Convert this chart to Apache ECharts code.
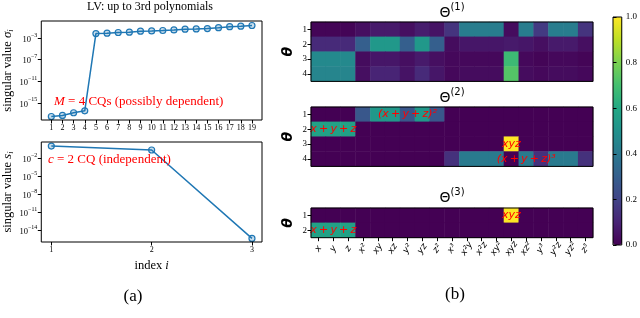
<!DOCTYPE html>
<html><head><meta charset="utf-8">
<script src="https://cdn.jsdelivr.net/npm/echarts@6/dist/echarts.min.js"></script>
<style>html,body{margin:0;padding:0;background:#fff}#c{width:640px;height:318px}</style>
</head><body><div id="c"></div>
<script>
// ---- data (panel a) ----
const idxTop = [1,2,3,4,5,6,7,8,9,10,11,12,13,14,15,16,17,18,19];
const sigmaTop = [2.8e-18,4.5e-18,1.4e-17,3.2e-17,7.4e-3,8.5e-3,1.15e-2,1.3e-2,2.0e-2,2.3e-2,2.7e-2,3.5e-2,4.7e-2,5.4e-2,6.3e-2,8.9e-2,1.38e-1,1.7e-1,2.3e-1];
const idxBot = [1,2,3];
const sBot = [1.1,0.24,4e-16];
const thresholdTop = [1e-8];
const thresholdBot = [1e-8];
const yTicksTop = [1e-15,1e-11,1e-7,1e-3];
const yTicksBot = [1e-14,1e-11,1e-8,1e-5,1e-2];
// ---- data (panel b) ----
const monomials = ['x','y','z','x²','xy','xz','y²','yz','z²','x³','x²y','x²z','xy²','xyz','xz²','y³','y²z','yz²','z³'];
const rows4 = ['1','2','3','4'];
const rows2 = ['1','2'];
const theta1 = [
 [0.01,0.01,0.01,0.04,0.07,0.07,0.04,0.08,0.05,0.15,0.42,0.42,0.42,0.03,0.42,0.17,0.42,0.42,0.15],
 [0.12,0.12,0.12,0.30,0.53,0.53,0.30,0.53,0.30,0.03,0.06,0.06,0.06,0.07,0.06,0.04,0.07,0.07,0.04],
 [0.47,0.47,0.47,0.03,0.06,0.06,0.04,0.07,0.04,0.02,0.02,0.02,0.02,0.68,0.02,0.01,0.02,0.02,0.01],
 [0.45,0.45,0.45,0.04,0.10,0.10,0.05,0.12,0.06,0.02,0.03,0.03,0.03,0.73,0.03,0.02,0.03,0.03,0.02]
];
const theta2 = [
 [0,0,0,0.27,0.53,0.53,0.27,0.53,0.27,0,0,0,0,0,0,0,0,0,0],
 [0.57,0.57,0.57,0,0,0,0,0,0,0,0,0,0,0,0,0,0,0,0],
 [0,0,0,0,0,0,0,0,0,0,0,0,0,1.0,0,0,0,0,0],
 [0,0,0,0,0,0,0,0,0,0.14,0.41,0.41,0.41,0,0.41,0.14,0.41,0.41,0.14]
];
const theta3 = [
 [0,0,0,0,0,0,0,0,0,0,0,0,0,1.0,0,0,0,0,0],
 [0.57,0.57,0.57,0,0,0,0,0,0,0,0,0,0,0,0,0,0,0,0]
];
const notes2 = [[6,0,'(x\u2009+\u2009y\u2009+\u2009z)²'],[1,1,'x\u2009+\u2009y\u2009+\u2009z'],[13,2,'xyz'],[14,3,'(x\u2009+\u2009y\u2009+\u2009z)³']];
const notes3 = [[13,0,'xyz'],[1,1,'x\u2009+\u2009y\u2009+\u2009z']];
const cbarTicks = [0,0.2,0.4,0.6,0.8,1.0];

const viridis = ['#440154','#482475','#414487','#355f8d','#2a788e','#21918c','#22a884','#44bf70','#7ad151','#bddf26','#fde725'];
const SERIF = 'Liberation Serif';
const SANS = 'DejaVu Sans';
const BLUE = '#1f77b4';

function hmData(mat, notes){
  const out = [];
  mat.forEach((row,r)=>row.forEach((v,c)=>{
    const n = notes.find(a=>a[0]===c && a[1]===r);
    if(n){
      out.push({value:[c,r,v], label:{show:true, formatter:n[2], color:'#ff0000', fontSize:11, fontStyle:'italic', fontWeight:'normal', fontFamily:SANS}});
    } else out.push([c,r,v]);
  }));
  return out;
}
const expFmt = v => '{b|10}{e|' + String(Math.round(Math.log10(v))).replace('-','\u2212') + '}';
const expRich = {b:{fontFamily:SERIF,fontSize:8.5,color:'#000',verticalAlign:'bottom',lineHeight:12}, e:{fontFamily:SERIF,fontSize:6,color:'#000',verticalAlign:'top',lineHeight:12}};

const chart = echarts.init(document.getElementById('c'), null, {renderer:'canvas'});

function lineY(gi, min, max, ticks, nameRich){
  return {type:'log', gridIndex:gi, min:min, max:max, logBase:10,
    splitLine:{show:false}, axisLine:{show:false},
    axisTick:{customValues:ticks, length:3.5, lineStyle:{color:'#000'}},
    axisLabel:{customValues:ticks, formatter:expFmt, rich:expRich, margin:4},
    minorTick:{show:false},
    name:nameRich, nameLocation:'middle', nameGap:22, nameRotate:90,
    nameTextStyle:{fontFamily:SERIF, fontSize:12.5, color:'#000', rich:{
      n:{fontFamily:SERIF,fontSize:12.5,color:'#000'},
      m:{fontFamily:SERIF,fontSize:13,fontStyle:'italic',color:'#000'},
      s:{fontFamily:SERIF,fontSize:8.5,fontStyle:'italic',color:'#000',verticalAlign:'bottom',lineHeight:16}}}
  };
}
function hmX(gi, showLabels){
  return {type:'category', gridIndex:gi, data:monomials, z:5,
    axisLine:{show:false}, splitLine:{show:false}, splitArea:{show:false},
    axisTick:{show:showLabels, alignWithLabel:true, length:3.5, lineStyle:{color:'#000'}},
    axisLabel:{show:showLabels, rotate:55, align:'center', verticalAlign:'middle', margin:11, fontFamily:SANS, fontStyle:'italic', fontSize:9, color:'#000'}};
}
function hmY(gi, rows){
  return {type:'category', gridIndex:gi, data:rows, inverse:true, z:5,
    axisLine:{show:false}, splitLine:{show:false}, splitArea:{show:false},
    axisTick:{show:true, alignWithLabel:true, length:3.5, lineStyle:{color:'#000'}},
    axisLabel:{fontFamily:SERIF, fontSize:9, color:'#000', margin:4},
    name:'θ', nameLocation:'middle', nameGap:16, nameRotate:90,
    nameTextStyle:{fontFamily:SANS, fontStyle:'italic', fontWeight:'bold', fontSize:14, color:'#000'}};
}
const hmGrid = (top,h)=>({left:311, top:top, width:282, height:h, show:true, z:10, borderColor:'#000', borderWidth:1, backgroundColor:'transparent'});
const thetaTitle = (n, top)=>({text:'{a|Θ}{b|('+n+')}', left:452, top:top, textAlign:'center', padding:0,
  textStyle:{fontWeight:'normal', rich:{a:{fontFamily:SANS,fontSize:14,fontWeight:'normal',color:'#000',verticalAlign:'bottom',lineHeight:18}, b:{fontFamily:SANS,fontSize:10,fontWeight:'normal',color:'#000',verticalAlign:'top',lineHeight:18}}}});

const option = {
  animation:false,
  backgroundColor:'#fff',
  title:[
    {text:'LV: up to 3rd polynomials', left:150, top:1, textAlign:'center', padding:0, textStyle:{fontFamily:SERIF, fontSize:12, fontWeight:'normal', color:'#000'}},
    thetaTitle(1,2), thetaTitle(2,87), thetaTitle(3,187),
    {text:'{i|M} = 4 CQs (possibly dependent)', left:54, top:95, padding:0, textStyle:{fontFamily:SERIF, fontSize:13, fontWeight:'normal', color:'#ff0000', rich:{i:{fontFamily:SERIF,fontSize:13,fontStyle:'italic',color:'#ff0000'}}}},
    {text:'{i|c} = 2 CQ (independent)', left:48, top:153, padding:0, textStyle:{fontFamily:SERIF, fontSize:13, fontWeight:'normal', color:'#ff0000', rich:{i:{fontFamily:SERIF,fontSize:13,fontStyle:'italic',color:'#ff0000'}}}},
    {text:'(a)', left:133, top:288, textAlign:'center', padding:0, textStyle:{fontFamily:SERIF, fontSize:17, fontWeight:'normal', color:'#000'}},
    {text:'(b)', left:455, top:286, textAlign:'center', padding:0, textStyle:{fontFamily:SERIF, fontSize:17, fontWeight:'normal', color:'#000'}}
  ],
  grid:[
    {left:39, top:21, width:223, height:99, show:true, z:10, borderColor:'#000', borderWidth:1, backgroundColor:'transparent'},
    {left:39, top:142, width:223, height:100, show:true, z:10, borderColor:'#000', borderWidth:1, backgroundColor:'transparent'},
    hmGrid(22,59.4), hmGrid(107,59.4), hmGrid(208,29.7),
    {left:613, top:17, width:9, height:228, show:true, z:10, borderColor:'#000', borderWidth:1, backgroundColor:'transparent'}
  ],
  xAxis:[
    {type:'value', gridIndex:0, min:0.1, max:19.9, splitLine:{show:false}, axisLine:{show:false},
     axisTick:{customValues:idxTop, length:3.5, lineStyle:{color:'#000'}},
     axisLabel:{customValues:idxTop, fontFamily:SERIF, fontSize:8, color:'#000', margin:4}},
    {type:'value', gridIndex:1, min:0.9, max:3.1, splitLine:{show:false}, axisLine:{show:false},
     axisTick:{customValues:idxBot, length:3.5, lineStyle:{color:'#000'}},
     axisLabel:{customValues:idxBot, fontFamily:SERIF, fontSize:8, color:'#000', margin:4},
     name:'{n|index }{i|i}', nameLocation:'middle', nameGap:17,
     nameTextStyle:{rich:{n:{fontFamily:SERIF,fontSize:12.5,color:'#000'}, i:{fontFamily:SERIF,fontSize:12.5,fontStyle:'italic',color:'#000'}}}},
    hmX(2,false), hmX(3,false), hmX(4,true),
    {type:'value', gridIndex:5, show:false, min:0, max:1}
  ],
  yAxis:[
    lineY(0, 6.3e-19, 1.58, yTicksTop, '{n|singular value }{m|σ}{s|i}'),
    lineY(1, 1e-16, 5.2, yTicksBot, '{n|singular value }{m|s}{s|i}'),
    hmY(2,rows4), hmY(3,rows4), hmY(4,rows2),
    {type:'value', gridIndex:5, min:0, max:1, interval:0.2, position:'right', z:11,
     splitLine:{show:false}, axisLine:{show:false},
     axisTick:{length:3.5, lineStyle:{color:'#000'}},
     axisLabel:{formatter:v=>v.toFixed(1), fontFamily:SERIF, fontSize:9, color:'#000', margin:4}}
  ],
  visualMap:{type:'continuous', min:0, max:1, seriesIndex:[2,3,4], left:613, top:17, itemWidth:9, itemHeight:228,
    padding:0, calculable:false, hoverLink:false, text:null, showLabel:false, inRange:{color:viridis}},
  series:[
    {type:'line', xAxisIndex:0, yAxisIndex:0, data:idxTop.map((x,i)=>[x,sigmaTop[i]]),
     symbol:'circle', symbolSize:6, lineStyle:{color:BLUE, width:1.5},
     itemStyle:{color:'rgba(31,119,180,0.25)', borderColor:BLUE, borderWidth:1.2},
     markLine:{silent:true, symbol:'none', label:{show:false}, lineStyle:{color:'#ff0000', type:[6,3], width:1.5},
       data:thresholdTop.map(v=>({yAxis:v}))}},
    {type:'line', xAxisIndex:1, yAxisIndex:1, data:idxBot.map((x,i)=>[x,sBot[i]]),
     symbol:'circle', symbolSize:6, lineStyle:{color:BLUE, width:1.5},
     itemStyle:{color:'rgba(31,119,180,0.25)', borderColor:BLUE, borderWidth:1.2},
     markLine:{silent:true, symbol:'none', label:{show:false}, lineStyle:{color:'#ff0000', type:[6,3], width:1.5},
       data:thresholdBot.map(v=>({yAxis:v}))}},
    {type:'heatmap', xAxisIndex:2, yAxisIndex:2, data:hmData(theta1,[]), emphasis:{disabled:true}, label:{show:false}},
    {type:'heatmap', xAxisIndex:3, yAxisIndex:3, data:hmData(theta2,notes2), emphasis:{disabled:true}, label:{show:false}},
    {type:'heatmap', xAxisIndex:4, yAxisIndex:4, data:hmData(theta3,notes3), emphasis:{disabled:true}, label:{show:false}}
  ]
};
chart.setOption(option);
</script></body></html>
